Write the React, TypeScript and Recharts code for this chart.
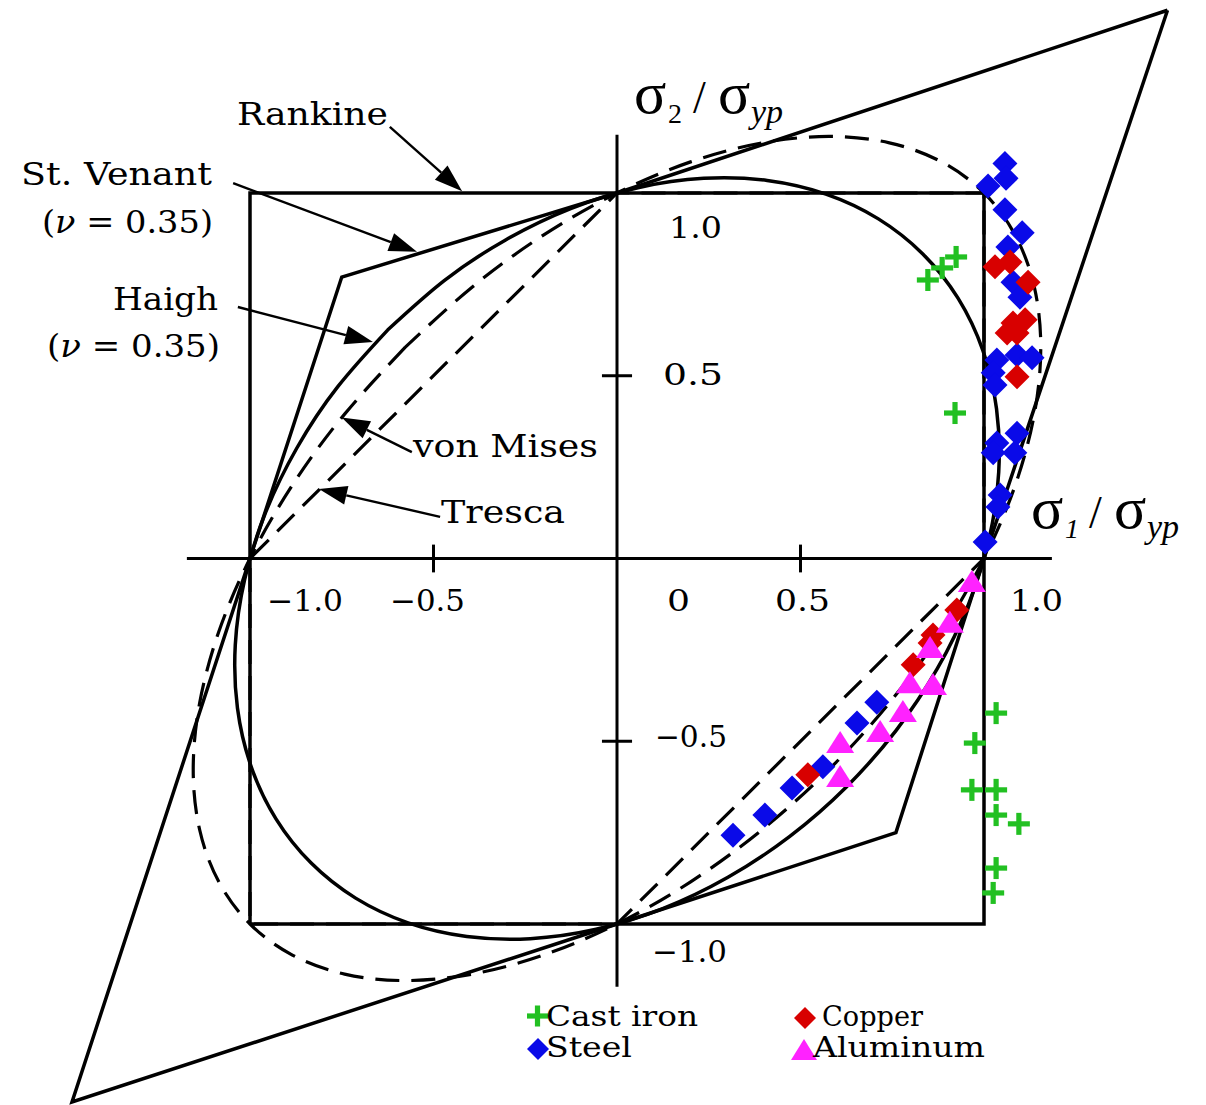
import React from 'react';
import { ScatterChart, Scatter, XAxis, YAxis, ReferenceLine, Customized } from 'recharts';

// ---------- data (stress ratios sigma1/sigma_yp, sigma2/sigma_yp) ----------
const X_DOMAIN: [number, number] = [-1.6812, 1.6049];
const Y_DOMAIN: [number, number] = [-1.4952, 1.528];

const rankine = [
  { x: -1, y: -1 }, { x: 1, y: -1 }, { x: 1, y: 1 }, { x: -1, y: 1 }, { x: -1, y: -1 },
];
const tresca = [
  { x: 1, y: 0 }, { x: 1, y: 1 }, { x: 0, y: 1 }, { x: -1, y: 0 }, { x: -1, y: -1 }, { x: 0, y: -1 }, { x: 1, y: 0 },
];
const stVenant = [
  { x: 1.5, y: 1.5 }, { x: 1, y: 0 }, { x: 0.76, y: -0.75 }, { x: 0, y: -1 }, { x: -1.485, y: -1.487 },
  { x: -1, y: 0 }, { x: -0.75, y: 0.77 }, { x: 0, y: 1 }, { x: 1.5, y: 1.5 },
];
const vonMises = [
  { x: -0.5774, y: 0.5774 }, { x: -0.7422, y: 0.395 }, { x: -0.8846, y: 0.2006 }, { x: -1, y: 0 },
  { x: -1.0851, y: -0.2005 }, { x: -1.1371, y: -0.3949 }, { x: -1.1547, y: -0.5773 }, { x: -1.1372, y: -0.7422 },
  { x: -1.085, y: -0.8846 }, { x: -1, y: -1 }, { x: -0.8846, y: -1.085 }, { x: -0.7422, y: -1.1372 },
  { x: -0.5773, y: -1.1547 }, { x: -0.3949, y: -1.1371 }, { x: -0.2005, y: -1.0851 }, { x: 0, y: -1 },
  { x: 0.2006, y: -0.8846 }, { x: 0.395, y: -0.7422 }, { x: 0.5774, y: -0.5774 }, { x: 0.7422, y: -0.395 },
  { x: 0.8846, y: -0.2006 }, { x: 1, y: 0 }, { x: 1.0851, y: 0.2005 }, { x: 1.1371, y: 0.3949 },
  { x: 1.1547, y: 0.5773 }, { x: 1.1372, y: 0.7422 }, { x: 1.085, y: 0.8846 }, { x: 1, y: 1 },
  { x: 0.8846, y: 1.085 }, { x: 0.7422, y: 1.1372 }, { x: 0.5773, y: 1.1547 }, { x: 0.3949, y: 1.1371 },
  { x: 0.2005, y: 1.0851 }, { x: 0, y: 1 }, { x: -0.2006, y: 0.8846 }, { x: -0.395, y: 0.7422 },
  { x: -0.5774, y: 0.5774 },
];
const haigh = [
  { x: -0.625, y: 0.625 }, { x: -0.7602, y: 0.4708 }, { x: -0.8723, y: 0.3023 }, { x: -0.958, y: 0.1246 },
  { x: -1.0145, y: -0.0569 }, { x: -1.0401, y: -0.2365 }, { x: -1.0342, y: -0.4092 }, { x: -0.9969, y: -0.5693 },
  { x: -0.9292, y: -0.7122 }, { x: -0.8333, y: -0.8333 }, { x: -0.7122, y: -0.9292 }, { x: -0.5693, y: -0.9969 },
  { x: -0.4092, y: -1.0342 }, { x: -0.2365, y: -1.0401 }, { x: -0.0569, y: -1.0145 }, { x: 0.1246, y: -0.958 },
  { x: 0.3023, y: -0.8723 }, { x: 0.4708, y: -0.7602 }, { x: 0.625, y: -0.625 }, { x: 0.7602, y: -0.4708 },
  { x: 0.8723, y: -0.3023 }, { x: 0.958, y: -0.1246 }, { x: 1.0145, y: 0.0569 }, { x: 1.0401, y: 0.2365 },
  { x: 1.0342, y: 0.4092 }, { x: 0.9969, y: 0.5693 }, { x: 0.9292, y: 0.7122 }, { x: 0.8333, y: 0.8333 },
  { x: 0.7122, y: 0.9292 }, { x: 0.5693, y: 0.9969 }, { x: 0.4092, y: 1.0342 }, { x: 0.2365, y: 1.0401 },
  { x: 0.0569, y: 1.0145 }, { x: -0.1246, y: 0.958 }, { x: -0.3023, y: 0.8723 }, { x: -0.4708, y: 0.7602 },
  { x: -0.625, y: 0.625 },
];

const castIron = [
  { x: 0.847, y: 0.762 }, { x: 0.886, y: 0.795 }, { x: 0.924, y: 0.825 }, { x: 0.921, y: 0.398 },
  { x: 1.033, y: -0.423 }, { x: 0.975, y: -0.505 }, { x: 0.967, y: -0.633 }, { x: 1.033, y: -0.633 },
  { x: 1.033, y: -0.702 }, { x: 1.095, y: -0.726 }, { x: 1.033, y: -0.847 }, { x: 1.025, y: -0.915 },
];
const steel = [
  { x: 1.057, y: 1.081 }, { x: 1.06, y: 1.04 }, { x: 1.011, y: 1.019 }, { x: 1.057, y: 0.954 },
  { x: 1.104, y: 0.891 }, { x: 1.065, y: 0.852 }, { x: 1.079, y: 0.756 }, { x: 1.098, y: 0.715 },
  { x: 1.035, y: 0.543 }, { x: 1.09, y: 0.557 }, { x: 1.131, y: 0.549 }, { x: 1.025, y: 0.508 },
  { x: 1.03, y: 0.475 }, { x: 1.035, y: 0.316 }, { x: 1.09, y: 0.343 }, { x: 1.025, y: 0.289 },
  { x: 1.084, y: 0.289 }, { x: 1.044, y: 0.174 }, { x: 1.038, y: 0.141 }, { x: 1.003, y: 0.045 },
  { x: 0.708, y: -0.393 }, { x: 0.654, y: -0.45 }, { x: 0.561, y: -0.57 }, { x: 0.477, y: -0.628 },
  { x: 0.403, y: -0.702 }, { x: 0.316, y: -0.757 },
];
const copper = [
  { x: 1.03, y: 0.798 }, { x: 1.071, y: 0.811 }, { x: 1.12, y: 0.756 }, { x: 1.079, y: 0.644 },
  { x: 1.112, y: 0.653 }, { x: 1.063, y: 0.617 }, { x: 1.09, y: 0.617 }, { x: 1.09, y: 0.497 },
  { x: 0.926, y: -0.141 }, { x: 0.861, y: -0.209 }, { x: 0.853, y: -0.231 }, { x: 0.807, y: -0.291 },
  { x: 0.52, y: -0.592 },
];
const aluminum = [
  { x: 0.967, y: -0.064 }, { x: 0.907, y: -0.176 }, { x: 0.853, y: -0.245 }, { x: 0.798, y: -0.341 },
  { x: 0.861, y: -0.346 }, { x: 0.779, y: -0.42 }, { x: 0.717, y: -0.475 }, { x: 0.608, y: -0.505 },
  { x: 0.608, y: -0.598 },
];

const xTickValues = [-0.5, 0.5];
const yTickValues = [0.5, -0.5];
const xTickLabels = [
  { text: '\u22121.0', x: 267, w: 76 }, { text: '\u22120.5', x: 390, w: 75 }, { text: '0', x: 667, w: 23 },
  { text: '0.5', x: 775, w: 55 }, { text: '1.0', x: 1010, w: 53 },
];
const yTickLabels = [
  { text: '1.0', x: 669, y: 238, w: 53 }, { text: '0.5', x: 663, y: 385, w: 60 },
  { text: '\u22120.5', x: 655, y: 747, w: 72 }, { text: '\u22121.0', x: 652, y: 962, w: 75 },
];
const arrows = [
  { name: 'Rankine', from: { x: -0.619, y: 1.181 }, to: { x: -0.422, y: 1.005 } },
  { name: 'St. Venant', from: { x: -1.046, y: 1.027 }, to: { x: -0.545, y: 0.839 } },
  { name: 'Haigh', from: { x: -1.033, y: 0.688 }, to: { x: -0.665, y: 0.592 } },
  { name: 'von Mises', from: { x: -0.559, y: 0.291 }, to: { x: -0.75, y: 0.386 } },
  { name: 'Tresca', from: { x: -0.482, y: 0.114 }, to: { x: -0.812, y: 0.19 } },
];

const GREEN = '#22c022';
const BLUE = '#0a0ae8';
const RED = '#d80000';
const MAGENTA = '#ff22ff';
const SERIF = "'DejaVu Serif', serif";
const TIMES = "'Liberation Serif', serif";

// ---------- shapes ----------
const Nothing = () => <g />;
const Diamond = (color: string) => (p: any) => (
  <polygon points={`${p.cx},${p.cy - 12.5} ${p.cx + 12.5},${p.cy} ${p.cx},${p.cy + 12.5} ${p.cx - 12.5},${p.cy}`} fill={color} />
);
const Triangle = (p: any) => (
  <polygon points={`${p.cx},${p.cy - 12} ${p.cx + 14},${p.cy + 10} ${p.cx - 14},${p.cy + 10}`} fill={MAGENTA} />
);
const Plus = (p: any) => (
  <g fill={GREEN}>
    <rect x={p.cx - 11} y={p.cy - 2.6} width={22} height={5.2} />
    <rect x={p.cx - 2.6} y={p.cy - 11} width={5.2} height={22} />
  </g>
);
const ArrowShape = (props: any) => {
  const { x1, y1, x2, y2 } = props;
  const ang = Math.atan2(y2 - y1, x2 - x1);
  const L = 28;
  const W = 9.5;
  const bx = x2 - L * Math.cos(ang);
  const by = y2 - L * Math.sin(ang);
  const px = -Math.sin(ang) * W;
  const py = Math.cos(ang) * W;
  return (
    <g>
      <line x1={x1} y1={y1} x2={bx} y2={by} stroke="#000" strokeWidth={2.4} />
      <polygon points={`${x2},${y2} ${bx + px},${by + py} ${bx - px},${by - py}`} fill="#000" />
    </g>
  );
};

const T = (props: any) => (
  <text fontFamily={SERIF} fill="#000" lengthAdjust="spacingAndGlyphs" {...props} />
);

function Annotations() {
  return (
    <g>
      {/* curve labels */}
      <T x={237} y={125} fontSize={32} textLength={151}>Rankine</T>
      <T x={21} y={185} fontSize={32} textLength={191}>St. Venant</T>
      <T x={42} y={233} fontSize={32} textLength={171}>(<tspan fontStyle="italic">ν</tspan> = 0.35)</T>
      <T x={113} y={310} fontSize={32} textLength={105}>Haigh</T>
      <T x={47} y={357} fontSize={32} textLength={173}>(<tspan fontStyle="italic">ν</tspan> = 0.35)</T>
      <T x={413} y={457} fontSize={32} textLength={185}>von Mises</T>
      <T x={441} y={523} fontSize={32} textLength={124}>Tresca</T>
      {/* tick labels */}
      {xTickLabels.map((t) => (
        <T key={t.text} x={t.x} y={611} fontSize={30} textLength={t.w}>{t.text}</T>
      ))}
      {yTickLabels.map((t) => (
        <T key={t.text} x={t.x} y={t.y} fontSize={30} textLength={t.w}>{t.text}</T>
      ))}
      {/* axis titles */}
      <text fontFamily={TIMES} fontSize={60} fill="#000">
        <tspan x={634} y={113}>σ</tspan>
        <tspan x={668} y={123} fontSize={28}>2</tspan>
        <tspan x={693} y={113} fontSize={46}>/</tspan>
        <tspan x={718} y={113}>σ</tspan>
        <tspan x={751} y={123} fontSize={34} fontStyle="italic">yp</tspan>
      </text>
      <text fontFamily={TIMES} fontSize={60} fill="#000">
        <tspan x={1031} y={528}>σ</tspan>
        <tspan x={1065} y={538} fontSize={28} fontStyle="italic">1</tspan>
        <tspan x={1089} y={528} fontSize={46}>/</tspan>
        <tspan x={1114} y={528}>σ</tspan>
        <tspan x={1147} y={538} fontSize={34} fontStyle="italic">yp</tspan>
      </text>
      {/* legend */}
      <g>
        <rect x={527} y={1013.4} width={21} height={5.2} fill={GREEN} />
        <rect x={534.9} y={1005.5} width={5.2} height={21} fill={GREEN} />
        <T x={546} y={1026} fontSize={27} textLength={152}>Cast iron</T>
        <polygon points="538,1038 549,1049 538,1060 527,1049" fill={BLUE} />
        <T x={546} y={1057} fontSize={27} textLength={86}>Steel</T>
        <polygon points="805,1007 816,1018 805,1029 794,1018" fill={RED} />
        <T x={822} y={1026} fontSize={27} textLength={101}>Copper</T>
        <polygon points="804,1039 817,1060 791,1060" fill={MAGENTA} />
        <T x={813} y={1057} fontSize={27} textLength={172}>Aluminum</T>
      </g>
    </g>
  );
}

export default function App() {
  const lineSolid = { stroke: '#000', strokeWidth: 3.5, fill: 'none' };
  const lineDash = { stroke: '#000', strokeWidth: 3.2, strokeDasharray: '24 12', fill: 'none' };
  return (
    <div style={{ width: 1206, height: 1105, background: '#fff' }}>
      <style>{'body{margin:0;background:#fff;}'}</style>
      <ScatterChart width={1206} height={1105} margin={{ top: 0, right: 0, bottom: 0, left: 0 }}>
        <XAxis type="number" dataKey="x" domain={X_DOMAIN} allowDataOverflow hide />
        <YAxis type="number" dataKey="y" domain={Y_DOMAIN} allowDataOverflow hide />
        <Scatter name="Rankine" data={rankine} line={lineSolid} shape={Nothing} isAnimationActive={false} />
        <Scatter name="Tresca" data={tresca} line={lineDash} shape={Nothing} isAnimationActive={false} />
        <Scatter name="St. Venant" data={stVenant} line={lineSolid} shape={Nothing} isAnimationActive={false} />
        <Scatter name="von Mises" data={vonMises} line={lineDash} lineJointType="natural" shape={Nothing} isAnimationActive={false} />
        <Scatter name="Haigh" data={haigh} line={lineSolid} lineJointType="natural" shape={Nothing} isAnimationActive={false} />
        <ReferenceLine segment={[{ x: -1.172, y: 0 }, { x: 1.185, y: 0 }]} stroke="#000" strokeWidth={3} />
        <ReferenceLine segment={[{ x: 0, y: 1.159 }, { x: 0, y: -1.172 }]} stroke="#000" strokeWidth={3} />
        {xTickValues.map((v) => (
          <ReferenceLine key={'xt' + v} segment={[{ x: v, y: -0.038 }, { x: v, y: 0.038 }]} stroke="#000" strokeWidth={3} />
        ))}
        {yTickValues.map((v) => (
          <ReferenceLine key={'yt' + v} segment={[{ x: -0.041, y: v }, { x: 0.041, y: v }]} stroke="#000" strokeWidth={3} />
        ))}
        {arrows.map((a) => (
          <ReferenceLine key={a.name} segment={[a.from, a.to]} shape={ArrowShape} />
        ))}
        <Scatter name="Cast iron" data={castIron} shape={Plus} isAnimationActive={false} />
        <Scatter name="Steel" data={steel} shape={Diamond(BLUE)} isAnimationActive={false} />
        <Scatter name="Copper" data={copper} shape={Diamond(RED)} isAnimationActive={false} />
        <Scatter name="Aluminum" data={aluminum} shape={Triangle} isAnimationActive={false} />
        <Customized component={Annotations} />
      </ScatterChart>
    </div>
  );
}
